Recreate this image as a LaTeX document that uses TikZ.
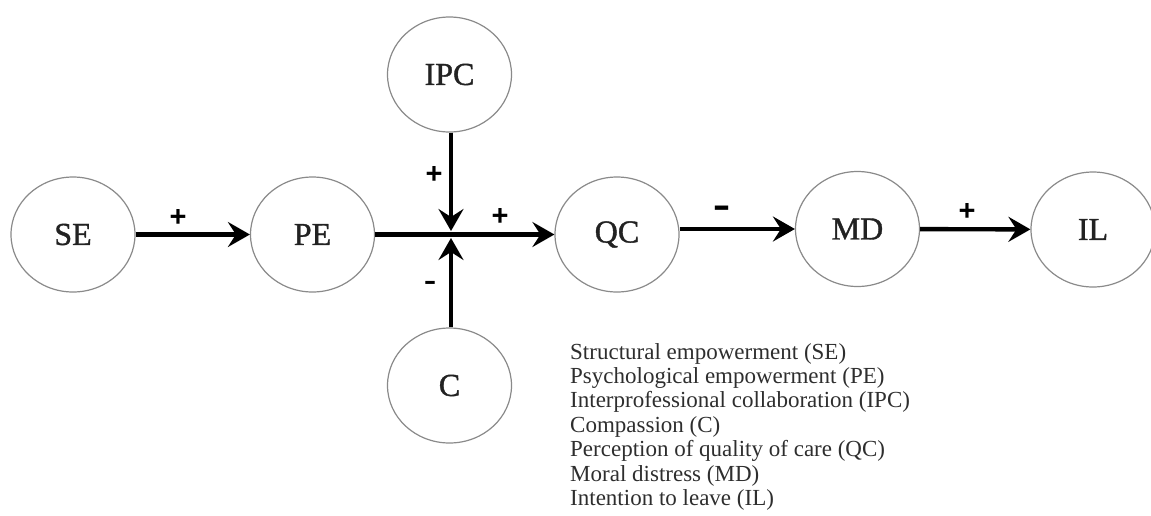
\documentclass[tikz,border=0pt]{standalone}
\usepackage{fontspec}
\setmainfont{Liberation Serif}
\setsansfont{Liberation Sans}
\newfontfamily\ringfont[FakeBold=1.2]{Liberation Serif}
\newfontfamily\dashfont{DejaVu Sans}
\usetikzlibrary{shapes.geometric,arrows.meta}
\definecolor{ringgray}{HTML}{8A8A8A}
\definecolor{txtgray}{HTML}{222222}
\definecolor{legendgray}{HTML}{2E2E2E}
\begin{document}
\begin{tikzpicture}[x=1pt,y=-1pt,
  var/.style={ellipse,draw=ringgray,line width=1.2pt,fill=white,minimum width=124pt,minimum height=115pt,inner sep=0pt,
    font=\ringfont\fontsize{32}{35}\selectfont,text=txtgray},
  link/.style={line width=4.4pt,-{Stealth[length=22pt,width=25pt,inset=8pt]}},
  sign/.style={font=\sffamily\bfseries\fontsize{29}{30}\selectfont,inner sep=0pt,text=black},
  dashsign/.style={font=\dashfont\bfseries\fontsize{24}{26}\selectfont,inner sep=0pt,text=black}]
\useasboundingbox (0,0) rectangle (1151,515);
\node[var] (SE) at (73,234.5) {SE};
\node[var] (PE) at (312.5,234.5) {PE};
\node[var] (IPC) at (449.5,74.5) {IPC};
\node[var] (C) at (449.5,385.5) {C};
\node[var] (QC) at (617,234.5) {QC};
\node[var] (MD) at (857.5,229) {MD};
\node[var] (IL) at (1093,229.5) {IL};
\coordinate (J) at (451,234.5);
\coordinate (Jt) at (451,231);
\coordinate (Jb) at (451,238);
\draw[link] (SE) -- (PE);
\draw[link] (PE.east) -- (QC.west);
\draw[link] (IPC.south -| J) -- (Jt);
\draw[link] (C.north -| J) -- (Jb);
\draw[link] (QC.east |- MD.west) -- (MD.west);
\draw[link] (MD) -- (IL);
\node[sign] (s1) at (178,218) {+};
\node[sign] (s2) at (434,175) {+};
\node[dashsign] (s3) at (430,285) {–};
\node[sign] (s4) at (500,217) {+};
\node[dashsign,font=\dashfont\bfseries\fontsize{34}{36}\selectfont] (s5) at (722,212) {–};
\node[sign] (s6) at (967,212) {+};
\node[anchor=north west,align=left,inner sep=0pt,text=legendgray,font=\fontsize{23}{24.4}\selectfont] (legend) at (570,343)
{Structural empowerment (SE)\\
Psychological empowerment (PE)\\
Interprofessional collaboration (IPC)\\
Compassion (C)\\
Perception of quality of care (QC)\\
Moral distress (MD)\\
Intention to leave (IL)};
\end{tikzpicture}
\end{document}
